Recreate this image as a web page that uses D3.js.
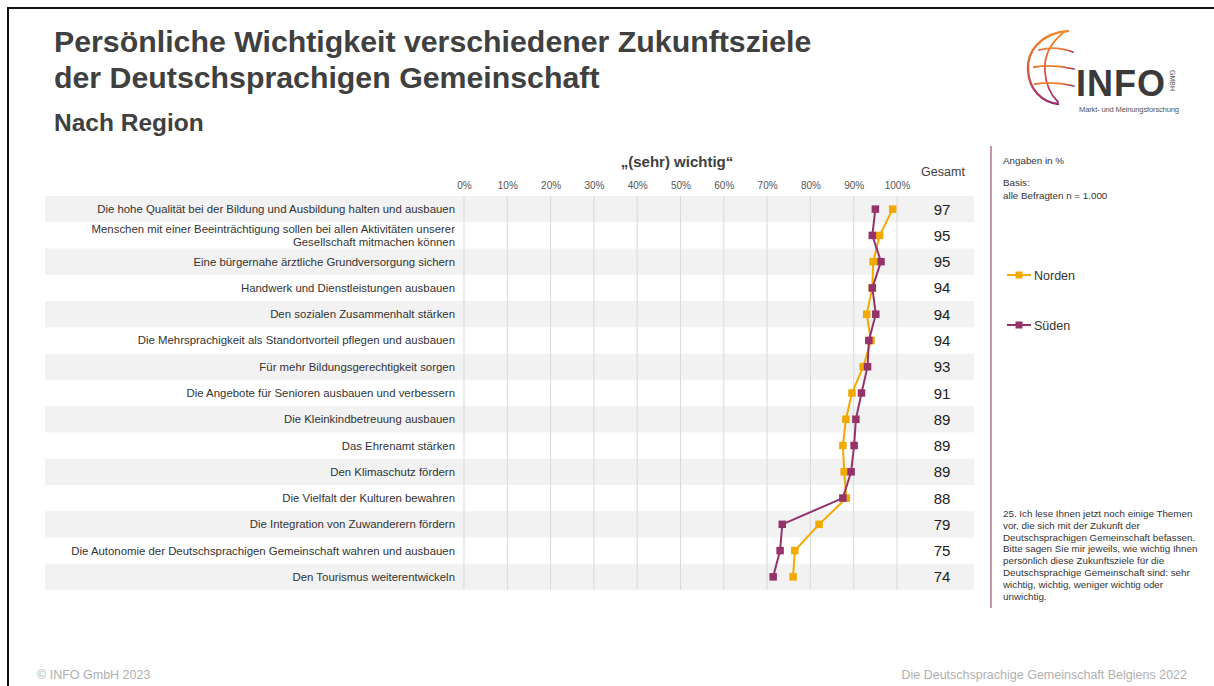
<!DOCTYPE html>
<html lang="de">
<head>
<meta charset="utf-8">
<script src="https://cdn.jsdelivr.net/npm/d3@7"></script>
<style>
  html, body { margin: 0; padding: 0; background: #fff; }
  svg { display: block; font-family: "Liberation Sans", Arial, sans-serif; }
</style>
</head>
<body>
<svg id="chart" width="1214" height="686"></svg>
<script>
// Zukunftsziele (Zeilen von oben nach unten)
const categories = [
  ["Die hohe Qualität bei der Bildung und Ausbildung halten und ausbauen"],
  ["Menschen mit einer Beeinträchtigung sollen bei allen Aktivitäten unserer", "Gesellschaft mitmachen können"],
  ["Eine bürgernahe ärztliche Grundversorgung sichern"],
  ["Handwerk und Dienstleistungen ausbauen"],
  ["Den sozialen Zusammenhalt stärken"],
  ["Die Mehrsprachigkeit als Standortvorteil pflegen und ausbauen"],
  ["Für mehr Bildungsgerechtigkeit sorgen"],
  ["Die Angebote für Senioren ausbauen und verbessern"],
  ["Die Kleinkindbetreuung ausbauen"],
  ["Das Ehrenamt stärken"],
  ["Den Klimaschutz fördern"],
  ["Die Vielfalt der Kulturen bewahren"],
  ["Die Integration von Zuwanderern fördern"],
  ["Die Autonomie der Deutschsprachigen Gemeinschaft wahren und ausbauen"],
  ["Den Tourismus weiterentwickeln"]
];

// Anteil „(sehr) wichtig“ in %
const gesamt = [97, 95, 95, 94, 94, 94, 93, 91, 89, 89, 89, 88, 79, 75, 74];
const norden = [99, 96, 94.5, 94.3, 93, 94, 92.2, 89.6, 88.2, 87.5, 87.8, 88.3, 82, 76.4, 76];
const sueden = [95, 94.3, 96.3, 94.3, 95.1, 93.5, 93.2, 91.8, 90.5, 90.1, 89.4, 87.5, 73.5, 73, 71.4];

const tickValues = [0, 10, 20, 30, 40, 50, 60, 70, 80, 90, 100];

const seriesList = [
  { name: "Norden", values: norden, color: "#F2A900" },
  { name: "Süden",  values: sueden, color: "#953369" }
];

const svg = d3.select("#chart");
const textDark = "#404040";

// Rahmen
svg.append("path")
  .attr("d", "M8,690 L8,8 L1220,8")
  .attr("fill", "none").attr("stroke", "#111").attr("stroke-width", 2);

// Titel
const title = svg.append("g").attr("fill", textDark).attr("font-weight", "bold");
title.append("text").attr("x", 54).attr("y", 52).attr("font-size", 30.3)
  .text("Persönliche Wichtigkeit verschiedener Zukunftsziele");
title.append("text").attr("x", 54).attr("y", 88).attr("font-size", 30.3)
  .text("der Deutschsprachigen Gemeinschaft");
title.append("text").attr("x", 54).attr("y", 131).attr("font-size", 24.5)
  .text("Nach Region");

// Skalen
const x = d3.scaleLinear().domain([0, 100]).range([464, 897]);
const y = d3.scaleBand().domain(d3.range(categories.length)).range([196, 590]).padding(0);

// Zeilenhintergrund
svg.append("g").selectAll("rect")
  .data(d3.range(categories.length).filter(i => i % 2 === 0))
  .join("rect")
  .attr("x", 45).attr("width", 974 - 45)
  .attr("y", i => y(i)).attr("height", y.bandwidth())
  .attr("fill", "#f2f2f2");

// Achse oben mit Gitterlinien
const axis = d3.axisTop(x).tickValues(tickValues).tickFormat(d => d + "%").tickSize(0).tickPadding(0);
const ax = svg.append("g").attr("transform", "translate(0,189)").call(axis);
ax.select(".domain").remove();
ax.selectAll("text").attr("font-size", 10).attr("fill", "#555")
  .attr("font-family", "Liberation Sans, Arial, sans-serif");

svg.append("g").selectAll("line")
  .data(tickValues)
  .join("line")
  .attr("x1", d => x(d)).attr("x2", d => x(d))
  .attr("y1", 196).attr("y2", 590)
  .attr("stroke", "#d9d9d9").attr("stroke-width", 1);

// Überschrift über der Achse
svg.append("text").attr("x", 677).attr("y", 167).attr("text-anchor", "middle")
  .attr("font-size", 15).attr("font-weight", "bold").attr("fill", textDark)
  .text("„(sehr) wichtig“");
svg.append("text").attr("x", 943).attr("y", 176).attr("text-anchor", "middle")
  .attr("font-size", 12.5).attr("fill", textDark).text("Gesamt");

// Zeilenbeschriftungen
const labels = svg.append("g").attr("font-size", 11.4).attr("fill", "#333").attr("text-anchor", "end");
categories.forEach((lines, i) => {
  const cy = y(i) + y.bandwidth() / 2;
  const lh = 13;
  const t = labels.append("text");
  lines.forEach((ln, k) => {
    t.append("tspan").attr("x", 455)
      .attr("y", cy + 4 + (k - (lines.length - 1) / 2) * lh)
      .text(ln);
  });
});

// Gesamtwerte
svg.append("g").selectAll("text")
  .data(gesamt)
  .join("text")
  .attr("x", 942).attr("y", (d, i) => y(i) + y.bandwidth() / 2 + 5.5)
  .attr("text-anchor", "middle").attr("font-size", 15).attr("fill", "#222")
  .text(d => d);

// Linien und Marker je Region
const line = d3.line()
  .x(d => x(d))
  .y((d, i) => y(i) + y.bandwidth() / 2);
const ms = 7.5;
seriesList.forEach(s => {
  const g = svg.append("g");
  g.append("path").attr("d", line(s.values))
    .attr("fill", "none").attr("stroke", s.color).attr("stroke-width", 2);
  g.selectAll("rect").data(s.values).join("rect")
    .attr("x", d => x(d) - ms / 2)
    .attr("y", (d, i) => y(i) + y.bandwidth() / 2 - ms / 2)
    .attr("width", ms).attr("height", ms)
    .attr("fill", s.color);
});

// Trennlinie rechts
svg.append("line").attr("x1", 991).attr("x2", 991).attr("y1", 146).attr("y2", 608)
  .attr("stroke", "#c994b0").attr("stroke-width", 2);

// Hinweise
const notes = svg.append("g").attr("font-size", 9.8).attr("fill", "#333");
notes.append("text").attr("x", 1003).attr("y", 164).text("Angaben in %");
notes.append("text").attr("x", 1003).attr("y", 186).text("Basis:");
notes.append("text").attr("x", 1003).attr("y", 199).text("alle Befragten  n = 1.000");

const question = [
  "25. Ich lese Ihnen jetzt noch einige Themen",
  "vor, die sich mit der Zukunft der",
  "Deutschsprachigen Gemeinschaft befassen.",
  "Bitte sagen Sie mir jeweils, wie wichtig Ihnen",
  "persönlich diese Zukunftsziele für die",
  "Deutschsprachige Gemeinschaft sind: sehr",
  "wichtig, wichtig, weniger wichtig oder",
  "unwichtig."
];
notes.append("g").selectAll("text").data(question).join("text")
  .attr("x", 1003).attr("y", (d, i) => 517 + i * 11.8).text(d => d);

// Legende
const legend = svg.append("g");
seriesList.forEach((s, i) => {
  const ly = 275 + i * 50;
  legend.append("line").attr("x1", 1007).attr("x2", 1031).attr("y1", ly).attr("y2", ly)
    .attr("stroke", s.color).attr("stroke-width", 2);
  legend.append("rect").attr("x", 1019 - 3.5).attr("y", ly - 3.5).attr("width", 7).attr("height", 7)
    .attr("fill", s.color);
  legend.append("text").attr("x", 1034).attr("y", ly + 4.5).attr("font-size", 12.5)
    .attr("fill", "#333").text(s.name);
});

// Logo
const logo = svg.append("g");
const defs = svg.append("defs");
const grad = defs.append("linearGradient").attr("id", "logoGrad")
  .attr("x1", "0").attr("y1", "0").attr("x2", "0").attr("y2", "1");
grad.append("stop").attr("offset", "0").attr("stop-color", "#f28a2e");
grad.append("stop").attr("offset", "0.55").attr("stop-color", "#d9553f");
grad.append("stop").attr("offset", "1").attr("stop-color", "#9b2f6e");
const lg = logo.append("g").attr("fill", "none").attr("stroke", "url(#logoGrad)")
  .attr("stroke-linecap", "round");
lg.append("path").attr("d", "M1068,31 C1040,33 1027,52 1028,70 C1029,90 1042,102 1058,104")
  .attr("stroke-width", 2.4);
lg.append("path").attr("d", "M1063,33 C1048,45 1044,60 1045,72 C1046,86 1052,96 1058,102")
  .attr("stroke-width", 1.8);
lg.append("path").attr("d", "M1039,50 C1050,47 1062,48 1073,52").attr("stroke-width", 1.8);
lg.append("path").attr("d", "M1034,67 C1048,65 1062,66 1074,69").attr("stroke-width", 1.8);
lg.append("path").attr("d", "M1035,84 C1048,82 1062,83 1074,86").attr("stroke-width", 1.8);
logo.append("text").attr("x", 1076).attr("y", 96).attr("font-size", 36).attr("font-weight", "bold")
  .attr("fill", "#3a3a3a").attr("textLength", 89).text("INFO");
logo.append("text").attr("transform", "translate(1170,70) rotate(90)")
  .attr("font-size", 7).attr("fill", "#555").text("GMBH");
logo.append("text").attr("x", 1079).attr("y", 112).attr("font-size", 7.6).attr("fill", "#555")
  .attr("textLength", 100).text("Markt- und Meinungsforschung");

// Fußzeile
svg.append("text").attr("x", 37).attr("y", 679).attr("font-size", 12.5).attr("fill", "#b0b0b0")
  .text("© INFO GmbH 2023");
svg.append("text").attr("x", 1187).attr("y", 679).attr("text-anchor", "end").attr("font-size", 12.5)
  .attr("fill", "#b0b0b0").text("Die Deutschsprachige Gemeinschaft Belgiens 2022");
</script>
</body>
</html>
